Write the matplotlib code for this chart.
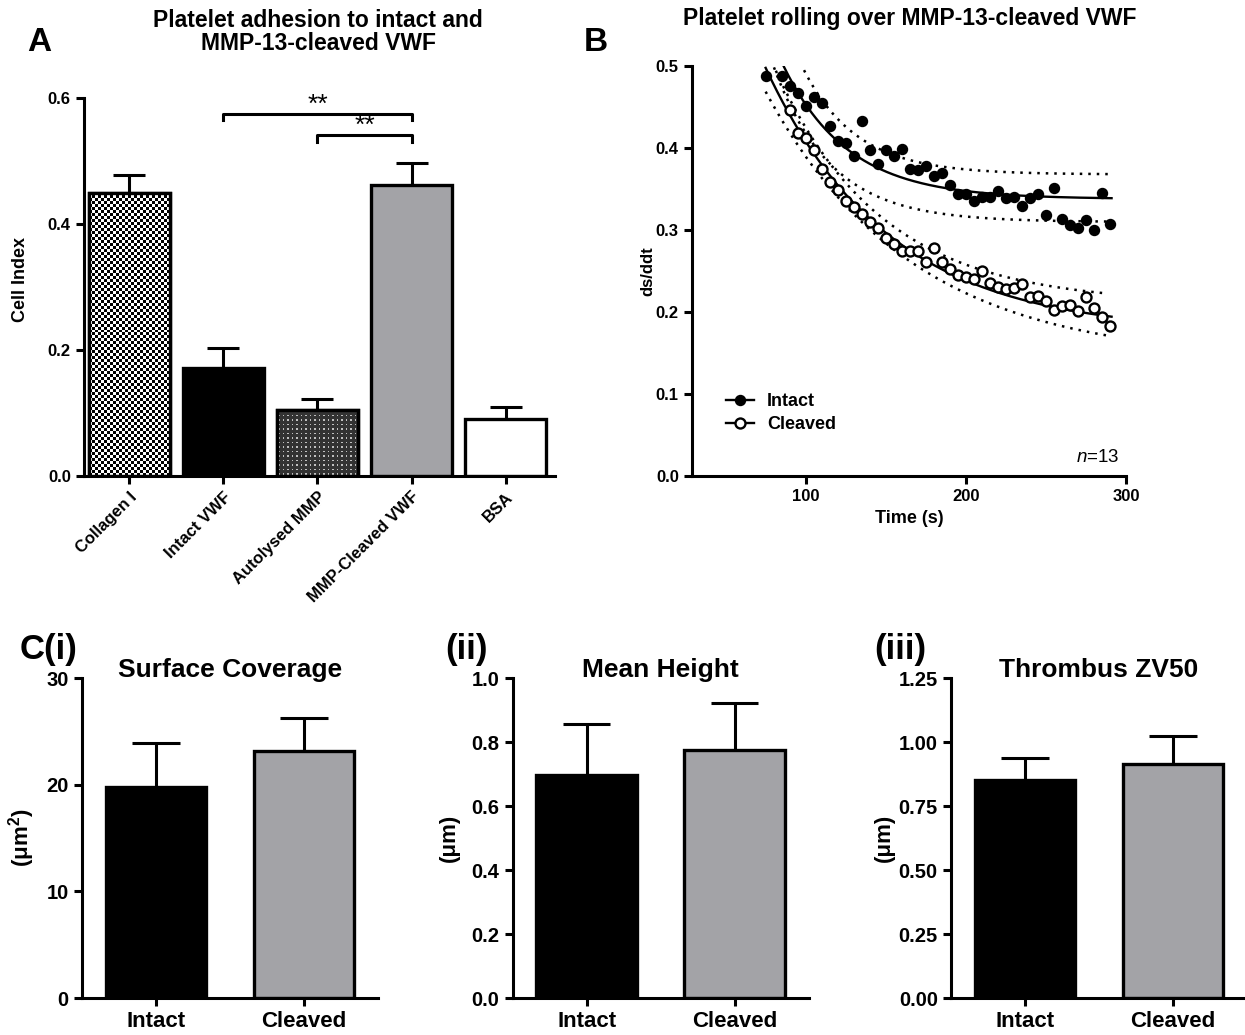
import numpy as np
import matplotlib.pyplot as plt
from matplotlib.lines import Line2D

plt.rcParams['font.family'] = ['Liberation Sans', 'DejaVu Sans']
plt.rcParams['mathtext.fontset'] = 'custom'
plt.rcParams['mathtext.rm'] = 'Liberation Sans'
plt.rcParams['mathtext.it'] = 'Liberation Sans:italic'
plt.rcParams['mathtext.bf'] = 'Liberation Sans:bold'
plt.rcParams['axes.linewidth'] = 2.2

# DATA

# panel A - adhesion
adh_labels = ['Collagen I', 'Intact VWF', 'Autolysed MMP', 'MMP-Cleaved VWF', 'BSA']
adh_mean = [0.450, 0.172, 0.105, 0.462, 0.091]
adh_top = [0.478, 0.204, 0.122, 0.497, 0.110]
# significance brackets: (from bar, to bar, height)
sig_pairs = [(1, 3, 0.575), (2, 3, 0.541)]
sig_text = ['**', '**']

# panel B - rolling
intact_t = [75, 85, 90, 95, 100, 105, 110, 115, 120, 125, 130, 135, 140, 145, 150,
            155, 160, 165, 170, 175, 180, 185, 190, 195, 200, 205, 210, 215, 220,
            225, 230, 235, 240, 245, 250, 255, 260, 265, 270, 275, 280, 285, 290]
intact_v = [0.488, 0.488, 0.476, 0.467, 0.451, 0.463, 0.455, 0.427, 0.409, 0.406,
            0.390, 0.433, 0.398, 0.381, 0.398, 0.391, 0.399, 0.375, 0.374, 0.378,
            0.366, 0.370, 0.355, 0.344, 0.344, 0.335, 0.341, 0.341, 0.348, 0.339,
            0.341, 0.329, 0.339, 0.344, 0.318, 0.352, 0.314, 0.306, 0.303, 0.313,
            0.300, 0.345, 0.308]
cleaved_t = [90, 95, 100, 105, 110, 115, 120, 125, 130, 135, 140, 145, 150, 155,
             160, 165, 170, 175, 180, 185, 190, 195, 200, 205, 210, 215, 220, 225,
             230, 235, 240, 245, 250, 255, 260, 265, 270, 275, 280, 285, 290]
cleaved_v = [0.447, 0.418, 0.413, 0.398, 0.375, 0.359, 0.349, 0.335, 0.328, 0.320,
             0.310, 0.303, 0.290, 0.283, 0.274, 0.274, 0.274, 0.261, 0.278, 0.261,
             0.253, 0.245, 0.243, 0.241, 0.250, 0.235, 0.231, 0.228, 0.230, 0.234,
             0.218, 0.220, 0.213, 0.203, 0.207, 0.209, 0.202, 0.218, 0.205, 0.194,
             0.183]
# one-phase decay curves: plateau, span at t=75, rate (1/s)
intact_fit = (0.338, 0.214, 0.0247)
intact_upper = (0.368, 0.261, 0.030)
intact_lower = (0.310, 0.218, 0.0279)
cleaved_fit = (0.175, 0.323, 0.013)
cleaved_upper = (0.210, 0.313, 0.015)
cleaved_lower = (0.140, 0.329, 0.011)

# panel C - thrombus parameters
c_groups = ['Intact', 'Cleaved']
coverage_mean = [19.8, 23.2]
coverage_top = [23.9, 26.3]
height_mean = [0.697, 0.776]
height_top = [0.857, 0.924]
zv50_mean = [0.853, 0.913]
zv50_top = [0.939, 1.025]


def decay(t, p):
    plateau, span, k = p
    return plateau + span * np.exp(-k * (t - 75))


def style_axis(ax, tick_size):
    ax.spines['top'].set_visible(False)
    ax.spines['right'].set_visible(False)
    ax.tick_params(axis='both', direction='out', length=6, width=2.2,
                   labelsize=tick_size)
    for lab in ax.get_xticklabels() + ax.get_yticklabels():
        lab.set_fontweight('bold')


def error_caps(ax, x, mean, top, half, lw=2.2):
    ax.vlines(x, mean, top, color='black', lw=lw, zorder=1)
    ax.hlines(top, np.array(x) - half, np.array(x) + half, color='black', lw=lw, zorder=1)


def pattern_fill(ax, bar, img, cmap):
    # texture image clipped to a bar rectangle
    im = ax.imshow(img, cmap=cmap, interpolation='nearest', aspect='auto', zorder=2.5,
                   vmin=0, vmax=1,
                   extent=[bar.get_x(), bar.get_x() + bar.get_width(), 0, bar.get_height()])
    im.set_clip_path(bar)
    ax.bar(bar.get_x() + bar.get_width() / 2, bar.get_height(), width=bar.get_width(),
           fill=False, edgecolor='black', linewidth=2.4, zorder=3)


fig = plt.figure(figsize=(12.45, 10.35), dpi=100)

# ---------------- panel A
axA = fig.add_axes([0.0675, 0.540, 0.378, 0.365])
xa = np.arange(len(adh_labels))
w = 0.86
error_caps(axA, xa, adh_mean, adh_top, 0.17)
bars = axA.bar(xa, adh_mean, width=w, color=['white', 'black', '#333333', '#a3a3a7', 'white'],
               edgecolor='black', linewidth=2.4, zorder=2)
# checkerboard for collagen
chk = (np.add.outer(np.arange(95), np.arange(27)) % 2).astype(float)
pattern_fill(axA, bars[0], chk, 'gray')
# fine light dots on dark grey for autolysed MMP
dots = np.full((45, 54), 0.2)
dots[1::3, 1::3] = 0.75
pattern_fill(axA, bars[2], dots, 'gray')

for (i, j, h), s in zip(sig_pairs, sig_text):
    axA.plot([xa[i], xa[i], xa[j], xa[j]], [h - 0.01, h, h, h - 0.01], color='black', lw=2.2)
    axA.text((xa[i] + xa[j]) / 2, h - 0.004, s, ha='center', va='bottom', fontsize=19)

axA.set_xlim(-0.48, 4.52)
axA.set_ylim(0, 0.6)
axA.set_yticks([0.0, 0.2, 0.4, 0.6])
axA.set_yticklabels(['0.0', '0.2', '0.4', '0.6'])
axA.set_xticks(xa)
axA.set_xticklabels(adh_labels, rotation=45, ha='right', rotation_mode='anchor')
axA.set_ylabel('Cell Index', fontsize=13, fontweight='bold')
axA.yaxis.set_label_coords(-0.117, 0.52)
style_axis(axA, 12)
for lab in axA.get_xticklabels():
    lab.set_fontsize(12)

fig.text(0.2555, 0.969, 'Platelet adhesion to intact and\nMMP-13-cleaved VWF', ha='center',
         va='center', fontsize=16.5, fontweight='bold', linespacing=1.0)
fig.text(0.022, 0.959, 'A', fontsize=24, fontweight='bold', va='center')

# ---------------- panel B
axB = fig.add_axes([0.5558, 0.540, 0.3486, 0.396])
tt = np.linspace(75, 291, 300)
axB.plot(tt, decay(tt, intact_fit), color='black', lw=1.7)
axB.plot(tt, decay(tt, cleaved_fit), color='black', lw=1.7)
for band in [intact_upper, intact_lower, cleaved_upper, cleaved_lower]:
    axB.plot(tt[:-3], decay(tt[:-3], band), color='black', lw=1.8, linestyle=(0, (1, 2.4)))
axB.plot(intact_t, intact_v, 'o', color='black', ms=7.2, linestyle='none')
axB.plot(cleaved_t, cleaved_v, 'o', mfc='white', mec='black', mew=1.7, ms=7.2, linestyle='none')

axB.set_xlim(29, 300)
axB.set_ylim(0, 0.5)
axB.set_xticks([100, 200, 300])
axB.set_yticks([0.0, 0.1, 0.2, 0.3, 0.4, 0.5])
axB.set_yticklabels(['0.0', '0.1', '0.2', '0.3', '0.4', '0.5'])
axB.set_xlabel('Time (s)', fontsize=13, fontweight='bold')
axB.xaxis.set_label_coords(0.5, -0.082)
axB.set_ylabel('ds/ddt', fontsize=12, fontweight='bold')
axB.yaxis.set_label_coords(-0.085, 0.5)
style_axis(axB, 12)

handles = [Line2D([0], [0], color='black', lw=1.7, marker='o', ms=7.2, mfc='black'),
           Line2D([0], [0], color='black', lw=1.7, marker='o', ms=7.2, mfc='white', mew=1.7)]
axB.legend(handles, ['Intact', 'Cleaved'], loc='lower left', bbox_to_anchor=(0.04, 0.065),
           frameon=False, handlelength=1.6, handletextpad=0.7,
           prop={'weight': 'bold', 'size': 13}, labelspacing=0.35)
axB.text(0.985, 0.025, r'$\mathit{n}$=13', transform=axB.transAxes, ha='right', va='bottom',
         fontsize=13.5)

fig.text(0.731, 0.9826, 'Platelet rolling over MMP-13-cleaved VWF', ha='center', va='center',
         fontsize=16.5, fontweight='bold')
fig.text(0.469, 0.959, 'B', fontsize=24, fontweight='bold', va='center')

# ---------------- panel C
c_specs = [
    (0.0659, coverage_mean, coverage_top, 'Surface Coverage', '(\u03bcm$^{\\mathbf{2}}$)',
     (0, 30), [0, 10, 20, 30], ['0', '10', '20', '30'], -0.152, 'C(i)', 0.016),
    (0.4118, height_mean, height_top, 'Mean Height', '(\u03bcm)',
     (0, 1.0), [0, 0.2, 0.4, 0.6, 0.8, 1.0], ['0.0', '0.2', '0.4', '0.6', '0.8', '1.0'],
     -0.178, '(ii)', 0.358),
    (0.7639, zv50_mean, zv50_top, 'Thrombus ZV50', '(\u03bcm)',
     (0, 1.25), [0, 0.25, 0.5, 0.75, 1.0, 1.25], ['0.00', '0.25', '0.50', '0.75', '1.00', '1.25'],
     -0.189, '(iii)', 0.702),
]
xc = np.arange(len(c_groups))
for left, mean, top, title, ylab, ylim, yt, ytl, ylab_x, tag, tag_x in c_specs:
    ax = fig.add_axes([left, 0.0357, 0.2378, 0.309])
    error_caps(ax, xc, mean, top, 0.16)
    ax.bar(xc, mean, width=0.68, color=['black', '#a3a3a7'], edgecolor='black', linewidth=2.4,
           zorder=2)
    ax.set_xlim(-0.5, 1.5)
    ax.set_ylim(*ylim)
    ax.set_yticks(yt)
    ax.set_yticklabels(ytl)
    ax.set_xticks(xc)
    ax.set_xticklabels(c_groups)
    ax.set_ylabel(ylab, fontsize=16, fontweight='bold')
    ax.yaxis.set_label_coords(ylab_x, 0.5)
    style_axis(ax, 14.5)
    for lab in ax.get_xticklabels():
        lab.set_fontsize(16)
    ax.text(0.5, 1.025, title, transform=ax.transAxes, ha='center', va='center', fontsize=19,
            fontweight='bold')
    fig.text(tag_x, 0.372, tag, fontsize=25, fontweight='bold', va='center')

fig.savefig('out.png', dpi=100)
